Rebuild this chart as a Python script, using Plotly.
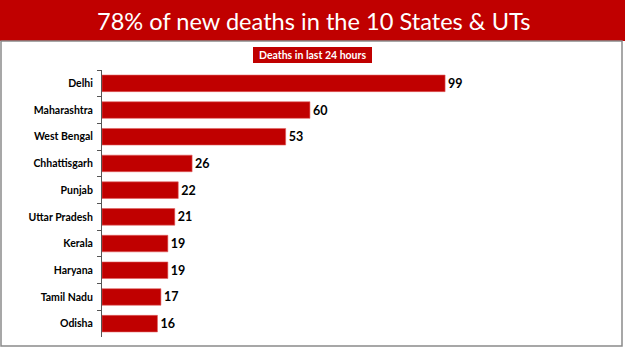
import plotly.graph_objects as go

states = ["Delhi", "Maharashtra", "West Bengal", "Chhattisgarh", "Punjab",
          "Uttar Pradesh", "Kerala", "Haryana", "Tamil Nadu", "Odisha"]
deaths = [99, 60, 53, 26, 22, 21, 19, 19, 17, 16]
title_text = "78% of new deaths in the 10 States & UTs"
subtitle_text = "Deaths in last 24 hours"

W, H = 625, 351
RED = "#C00000"

fig = go.Figure(go.Bar(
    x=deaths, y=states, orientation="h",
    marker=dict(color=RED, line=dict(color="#E06060", width=0.6)),
    text=deaths, textposition="outside", cliponaxis=False,
    textfont=dict(family="Lato", size=12.5, color="black", weight="bold"),
    width=0.62,
))

fig.update_layout(
    width=W, height=H, margin=dict(l=0, r=0, t=0, b=0),
    plot_bgcolor="white", paper_bgcolor="white", showlegend=False,
    xaxis=dict(domain=[102 / W, 600 / W], range=[0, 143.7], visible=False),
    yaxis=dict(domain=[(H - 337) / H, (H - 70) / H], autorange="reversed",
               showline=True, linecolor="#555", linewidth=1,
               ticks="outside", tickson="boundaries", ticklen=4, tickcolor="#555",
               tickfont=dict(family="Lato", size=10.5, color="black", weight="bold"),
               ticklabelstandoff=6),
    shapes=[
        dict(type="rect", xref="paper", yref="paper", x0=0, x1=1,
             y0=1 - 41 / H, y1=1, fillcolor=RED, line=dict(width=0), layer="below"),
        dict(type="rect", xref="paper", yref="paper", x0=1 / W, x1=622 / W,
             y0=1 - 346 / H, y1=1 - 41 / H, fillcolor="rgba(0,0,0,0)",
             line=dict(color="#8a8a8a", width=1.5)),
        dict(type="rect", xref="paper", yref="paper", x0=253 / W, x1=372 / W,
             y0=1 - 63 / H, y1=1 - 47 / H, fillcolor=RED, line=dict(width=0)),
    ],
    annotations=[
        dict(text=title_text, xref="paper", yref="paper", x=313 / W, y=1 - 21 / H,
             showarrow=False, xanchor="center", yanchor="middle",
             font=dict(family="Lato", size=23.6, color="white")),
        dict(text=subtitle_text, xref="paper", yref="paper", x=312.5 / W, y=1 - 55 / H,
             showarrow=False, xanchor="center", yanchor="middle",
             font=dict(family="Lato", size=10.5, color="white", weight="bold")),
    ],
)

fig.write_html("out.html")
